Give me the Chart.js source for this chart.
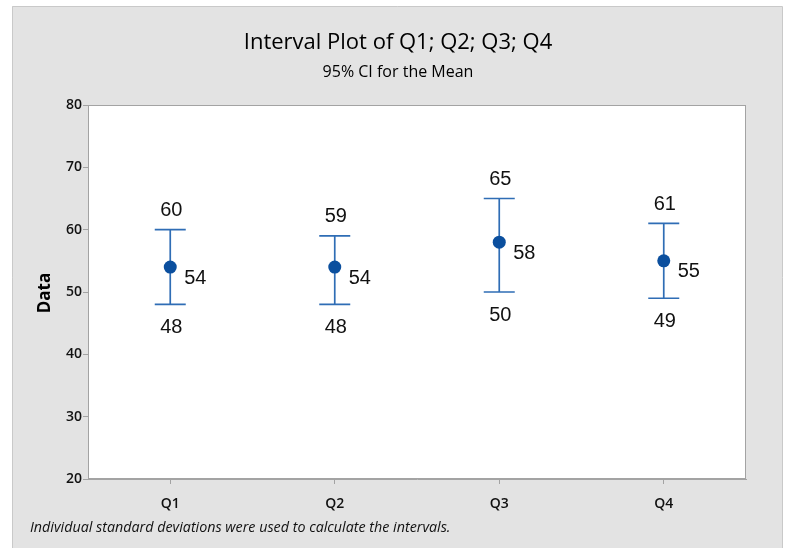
<!DOCTYPE html>
<html>
<head>
<meta charset="utf-8">
<script src="https://cdn.jsdelivr.net/npm/chart.js@4"></script>
<style>
  html, body { margin: 0; padding: 0; background: #ffffff; }
  canvas { display: block; }
</style>
</head>
<body>
<canvas id="chart" width="788" height="548"></canvas>
<script>
// Interval plot: mean with 95% confidence interval for each quarter
const categories = ['Q1', 'Q2', 'Q3', 'Q4'];
const means = [54, 54, 58, 55];
const lowerCI = [48, 48, 50, 49];
const upperCI = [60, 59, 65, 61];
const yTicks = [20, 30, 40, 50, 60, 70, 80];

const titleText = 'Interval Plot of Q1; Q2; Q3; Q4';
const subtitleText = '95% CI for the Mean';
const yAxisTitle = 'Data';
const footnoteText = 'Individual standard deviations were used to calculate the intervals.';

const UI_FONT = '"Open Sans", "Noto Sans", sans-serif';
const LINE_COLOR = '#2f6db5';
const POINT_COLOR = '#0b4f9e';
const AXIS_COLOR = '#a3a3a3';

const panelPlugin = {
  id: 'panel',
  beforeDraw(chart) {
    const ctx = chart.ctx;
    const a = chart.chartArea;
    ctx.save();
    ctx.fillStyle = '#ffffff';
    ctx.fillRect(0, 0, chart.width, chart.height);
    // grey outer panel
    ctx.fillStyle = '#e3e3e3';
    ctx.fillRect(12, 6, 770, chart.height);
    ctx.strokeStyle = '#c9c9c9';
    ctx.lineWidth = 1;
    ctx.beginPath();
    ctx.moveTo(12.5, chart.height);
    ctx.lineTo(12.5, 6.5);
    ctx.lineTo(782.5, 6.5);
    ctx.lineTo(782.5, chart.height);
    ctx.stroke();
    // white data region
    ctx.fillStyle = '#ffffff';
    ctx.fillRect(a.left, a.top, a.right - a.left, a.bottom - a.top);
    ctx.restore();
  },
  beforeDatasetsDraw(chart) {
    // confidence interval whiskers with caps
    const ctx = chart.ctx;
    const xs = chart.scales.x, ys = chart.scales.y;
    ctx.save();
    ctx.strokeStyle = LINE_COLOR;
    ctx.lineWidth = 1.7;
    const half = 15.5;
    categories.forEach((c, i) => {
      const x = xs.getPixelForValue(i);
      const yl = ys.getPixelForValue(lowerCI[i]);
      const yu = ys.getPixelForValue(upperCI[i]);
      ctx.beginPath();
      ctx.moveTo(x, yl); ctx.lineTo(x, yu);
      ctx.moveTo(x - half, yu); ctx.lineTo(x + half, yu);
      ctx.moveTo(x - half, yl); ctx.lineTo(x + half, yl);
      ctx.stroke();
    });
    ctx.restore();
  },
  afterDatasetsDraw(chart) {
    // value labels for the interval ends and the mean
    const ctx = chart.ctx;
    const xs = chart.scales.x, ys = chart.scales.y;
    ctx.save();
    ctx.fillStyle = '#111111';
    ctx.font = '20px "Liberation Sans", Arial, sans-serif';
    ctx.textBaseline = 'middle';
    categories.forEach((c, i) => {
      const x = xs.getPixelForValue(i);
      ctx.textAlign = 'center';
      ctx.fillText(String(upperCI[i]), x + 1, ys.getPixelForValue(upperCI[i]) - 19);
      ctx.fillText(String(lowerCI[i]), x + 1, ys.getPixelForValue(lowerCI[i]) + 23);
      ctx.textAlign = 'left';
      ctx.fillText(String(means[i]), x + 14, ys.getPixelForValue(means[i]) + 11);
    });
    ctx.restore();
  },
  afterDraw(chart) {
    const ctx = chart.ctx;
    const a = chart.chartArea;
    ctx.save();
    // frame around the data region
    ctx.strokeStyle = AXIS_COLOR;
    ctx.lineWidth = 1;
    ctx.strokeRect(a.left + 0.5, a.top + 0.5, a.right - a.left - 1, a.bottom - a.top - 1);
    // titles
    ctx.fillStyle = '#000000';
    ctx.textAlign = 'center';
    ctx.textBaseline = 'middle';
    ctx.font = '22px ' + UI_FONT;
    ctx.fillText(titleText, 398, 43);
    ctx.font = '16px ' + UI_FONT;
    ctx.fillText(subtitleText, 398, 72);
    // y axis title
    ctx.save();
    ctx.translate(45, 293);
    ctx.rotate(-Math.PI / 2);
    ctx.font = '700 17px ' + UI_FONT;
    ctx.fillText(yAxisTitle, 0, 0);
    ctx.restore();
    // footnote
    ctx.fillStyle = '#111111';
    ctx.textAlign = 'left';
    ctx.font = 'italic 14.3px ' + UI_FONT;
    ctx.fillText(footnoteText, 30, 528);
    ctx.restore();
  }
};

new Chart(document.getElementById('chart'), {
  type: 'line',
  data: {
    labels: categories,
    datasets: [{
      data: means,
      showLine: false,
      pointRadius: 6.5,
      pointHoverRadius: 6.5,
      pointBorderWidth: 0,
      pointBackgroundColor: POINT_COLOR,
      pointBorderColor: POINT_COLOR
    }]
  },
  options: {
    responsive: false,
    animation: false,
    devicePixelRatio: 1,
    layout: { padding: { left: 0, right: 42, top: 105, bottom: 0 } },
    plugins: { legend: { display: false }, tooltip: { enabled: false } },
    events: [],
    scales: {
      x: {
        offset: true,
        afterFit(s) { s.height = 69; },
        grid: { offset: false, drawOnChartArea: false, tickLength: 5, color: AXIS_COLOR },
        border: { color: AXIS_COLOR },
        ticks: { color: '#111111', padding: 12, font: { family: UI_FONT, size: 14, weight: '600' } }
      },
      y: {
        min: yTicks[0],
        max: yTicks[yTicks.length - 1],
        afterFit(s) { s.width = 88; },
        afterBuildTicks(s) { s.ticks = yTicks.map(v => ({ value: v })); },
        grid: { drawOnChartArea: false, tickLength: 5, color: AXIS_COLOR },
        border: { color: AXIS_COLOR },
        ticks: { color: '#111111', padding: 1, font: { family: UI_FONT, size: 14, weight: '600' } }
      }
    }
  },
  plugins: [panelPlugin]
});
</script>
</body>
</html>
